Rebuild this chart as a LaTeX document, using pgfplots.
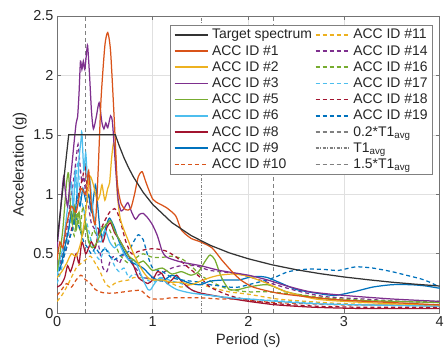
\documentclass[border=0pt]{standalone}
\usepackage{pgfplots}
\pgfplotsset{compat=1.18}
\usepackage{fontspec}
\setmainfont{Liberation Sans}
\definecolor{mtarget}{rgb}{0.2,0.2,0.2}
\definecolor{c1}{rgb}{0.85,0.325,0.098}
\definecolor{c2}{rgb}{0.929,0.694,0.125}
\definecolor{c3}{rgb}{0.494,0.184,0.556}
\definecolor{c4}{rgb}{0.466,0.674,0.188}
\definecolor{c5}{rgb}{0.301,0.745,0.933}
\definecolor{c6}{rgb}{0.635,0.078,0.184}
\definecolor{c7}{rgb}{0,0.447,0.741}
\definecolor{vgray}{rgb}{0.5,0.5,0.5}
\begin{document}
\begin{tikzpicture}
\begin{axis}[
  scale only axis,
  width=384.4pt, height=298.7pt,
  xmin=0, xmax=4, ymin=0, ymax=2.5,
  xtick={0,1,2,3,4},
  ytick={0,0.5,1,1.5,2,2.5},
  /pgf/number format/assume math mode=true,
  tick label style={font=\fontsize{14.5}{16}\selectfont, text=black!85},
  label style={font=\fontsize{15}{17}\selectfont, text=black!85},
  xlabel={Period (s)},
  ylabel={Acceleration (g)},
  grid=major,
  major grid style={black!12, line width=0.6pt},
  axis line style={black!55, line width=0.7pt},
  tick style={black!55, line width=0.7pt},
  tick align=inside,
  major tick length=4pt,
  every axis plot/.append style={line width=1.25pt},
  legend style={at={(1,1)}, anchor=north east, xshift=-6.7pt, yshift=-9pt,
    font=\fontsize{14}{15.5}\selectfont, draw=black!50, line width=0.7pt,
    inner xsep=3pt, inner ysep=2pt, row sep=1pt, column sep=1pt, text=black!85},
  legend columns=2,
  legend cell align=left,
  legend image code/.code={\draw[line width=1.5pt, #1] (0pt,0pt) -- (34pt,0pt);},
]
% vertical reference lines
\addplot[forget plot, vgray, line width=1pt, dash pattern=on 4pt off 3pt] coordinates {(0.302,0) (0.302,2.5)};
\addplot[forget plot, vgray, line width=1pt, dash pattern=on 3pt off 1.5pt on 1pt off 1.5pt] coordinates {(1.51,0) (1.51,2.5)};
\addplot[forget plot, vgray, line width=1pt, dash pattern=on 4pt off 3pt] coordinates {(2.265,0) (2.265,2.5)};
% ACC 10 orange dashed
\addplot[forget plot, smooth, tension=0.4, c1, dash pattern=on 4pt off 3pt] coordinates {(0,0.15) (0.05,0.2) (0.1,0.25) (0.15,0.22) (0.2,0.28) (0.25,0.32) (0.3,0.28) (0.35,0.25) (0.4,0.2) (0.45,0.18) (0.5,0.17) (0.6,0.17) (0.7,0.18) (0.8,0.19) (0.88,0.19) (0.95,0.14) (1.0,0.12) (1.1,0.12) (1.2,0.13) (1.35,0.13) (1.5,0.13) (1.7,0.12) (1.9,0.12) (2.1,0.1) (2.3,0.09) (2.6,0.08) (3.0,0.07) (3.5,0.07) (4.0,0.06)};
% ACC 11 yellow dashed
\addplot[forget plot, smooth, tension=0.4, c2, dash pattern=on 4pt off 3pt] coordinates {(0,0.1) (0.05,0.15) (0.1,0.22) (0.15,0.3) (0.2,0.38) (0.25,0.42) (0.3,0.45) (0.35,0.48) (0.4,0.42) (0.45,0.35) (0.5,0.26) (0.55,0.22) (0.6,0.25) (0.67,0.27) (0.75,0.28) (0.8,0.3) (0.9,0.3) (1.0,0.28) (1.1,0.28) (1.2,0.25) (1.3,0.22) (1.45,0.25) (1.6,0.22) (1.8,0.18) (2.0,0.16) (2.3,0.12) (2.6,0.1) (3.0,0.08) (3.5,0.07) (4.0,0.07)};
% ACC 14 purple dashed
\addplot[forget plot, smooth, tension=0.4, c3, dash pattern=on 4pt off 3pt] coordinates {(0,0.3) (0.04,0.45) (0.08,0.6) (0.11,0.75) (0.14,0.95) (0.17,1.1) (0.2,1.3) (0.22,1.42) (0.24,1.25) (0.26,1.1) (0.28,1.15) (0.3,1.0) (0.33,0.9) (0.36,0.75) (0.4,0.7) (0.44,0.55) (0.48,0.38) (0.52,0.35) (0.56,0.45) (0.6,0.48) (0.65,0.42) (0.7,0.5) (0.75,0.45) (0.8,0.4) (0.85,0.35) (0.9,0.3) (1.0,0.3) (1.1,0.34) (1.2,0.38) (1.3,0.4) (1.45,0.4) (1.6,0.36) (1.9,0.33) (2.2,0.26) (2.5,0.19) (2.8,0.14) (3.2,0.12) (3.6,0.1) (4.0,0.09)};
% ACC 16 green dashed
\addplot[forget plot, smooth, tension=0.4, c4, dash pattern=on 4pt off 3pt] coordinates {(0,0.3) (0.04,0.4) (0.08,0.55) (0.12,0.7) (0.15,0.8) (0.18,0.65) (0.21,0.85) (0.24,0.7) (0.27,0.9) (0.3,0.75) (0.34,0.6) (0.38,0.7) (0.42,0.65) (0.46,0.7) (0.5,0.75) (0.55,0.7) (0.6,0.6) (0.65,0.5) (0.7,0.45) (0.75,0.42) (0.8,0.45) (0.85,0.48) (0.9,0.5) (1.0,0.47) (1.1,0.47) (1.2,0.48) (1.3,0.46) (1.4,0.4) (1.5,0.32) (1.65,0.25) (1.8,0.2) (2.0,0.18) (2.2,0.18) (2.5,0.16) (2.8,0.13) (3.2,0.11) (3.6,0.1) (4.0,0.1)};
% ACC 17 light blue dashed
\addplot[forget plot, smooth, tension=0.4, c5, dash pattern=on 4pt off 3pt] coordinates {(0,0.25) (0.04,0.35) (0.08,0.5) (0.12,0.65) (0.15,0.85) (0.18,1.0) (0.2,1.15) (0.22,1.28) (0.24,1.0) (0.27,0.9) (0.3,0.8) (0.33,0.7) (0.36,0.6) (0.4,0.5) (0.45,0.45) (0.5,0.55) (0.55,0.5) (0.6,0.4) (0.65,0.35) (0.7,0.38) (0.75,0.3) (0.8,0.33) (0.9,0.3) (1.0,0.26) (1.1,0.3) (1.2,0.27) (1.3,0.25) (1.4,0.2) (1.5,0.16) (1.7,0.14) (2.0,0.12) (2.4,0.1) (2.8,0.08) (3.2,0.07) (4.0,0.06)};
% ACC 18 dark red dashed
\addplot[forget plot, smooth, tension=0.4, c6, dash pattern=on 4pt off 3pt] coordinates {(0,0.3) (0.04,0.4) (0.08,0.5) (0.12,0.6) (0.15,0.7) (0.18,0.8) (0.21,0.95) (0.24,1.05) (0.27,1.15) (0.29,1.25) (0.31,1.1) (0.34,0.95) (0.37,0.85) (0.4,0.75) (0.45,0.7) (0.5,0.78) (0.55,0.85) (0.6,0.88) (0.63,0.85) (0.67,0.75) (0.72,0.6) (0.78,0.5) (0.85,0.52) (0.95,0.54) (1.05,0.54) (1.15,0.52) (1.25,0.47) (1.35,0.4) (1.5,0.3) (1.6,0.22) (1.8,0.15) (2.0,0.11) (2.3,0.08) (2.7,0.06) (3.2,0.05) (4.0,0.05)};
% ACC 19 blue dashed
\addplot[forget plot, smooth, tension=0.4, c7, dash pattern=on 4pt off 3pt] coordinates {(0,0.3) (0.04,0.4) (0.08,0.5) (0.12,0.6) (0.16,0.7) (0.2,0.8) (0.24,0.7) (0.28,0.6) (0.32,0.55) (0.36,0.5) (0.4,0.55) (0.45,0.5) (0.5,0.55) (0.55,0.48) (0.6,0.45) (0.65,0.48) (0.7,0.5) (0.75,0.52) (0.8,0.6) (0.85,0.66) (0.9,0.62) (0.95,0.48) (1.0,0.38) (1.1,0.35) (1.2,0.3) (1.3,0.28) (1.4,0.27) (1.5,0.26) (1.6,0.24) (1.7,0.23) (1.8,0.22) (1.9,0.22) (2.0,0.24) (2.1,0.26) (2.2,0.28) (2.3,0.31) (2.42,0.35) (2.6,0.37) (2.77,0.37) (2.94,0.36) (3.12,0.39) (3.3,0.38) (3.5,0.35) (3.65,0.32) (3.8,0.29) (3.9,0.26) (4.0,0.22)};
% ACC 8 dark red
\addplot[forget plot, smooth, tension=0.4, c6] coordinates {(0,0.22) (0.04,0.24) (0.08,0.3) (0.11,0.4) (0.14,0.35) (0.17,0.42) (0.2,0.5) (0.23,0.42) (0.26,0.6) (0.3,0.5) (0.33,0.55) (0.36,0.6) (0.4,0.55) (0.44,0.7) (0.48,0.6) (0.52,0.72) (0.56,0.76) (0.6,0.68) (0.65,0.62) (0.7,0.55) (0.75,0.48) (0.8,0.4) (0.85,0.3) (0.9,0.27) (0.95,0.25) (1.0,0.28) (1.05,0.35) (1.1,0.33) (1.15,0.25) (1.2,0.28) (1.25,0.32) (1.3,0.27) (1.4,0.2) (1.5,0.17) (1.7,0.14) (2.0,0.1) (2.3,0.07) (2.7,0.05) (3.2,0.04) (4.0,0.04)};
% ACC 9 blue
\addplot[forget plot, smooth, tension=0.4, c7] coordinates {(0,0.35) (0.04,0.4) (0.08,0.55) (0.12,0.7) (0.15,0.85) (0.18,0.75) (0.21,1.0) (0.24,0.9) (0.27,1.05) (0.3,0.95) (0.33,1.0) (0.36,0.85) (0.4,1.08) (0.42,0.95) (0.45,0.7) (0.48,0.65) (0.52,0.75) (0.55,0.8) (0.6,0.72) (0.65,0.6) (0.7,0.52) (0.75,0.45) (0.8,0.42) (0.9,0.38) (1.0,0.3) (1.1,0.27) (1.2,0.32) (1.3,0.28) (1.4,0.25) (1.5,0.24) (1.6,0.27) (1.75,0.28) (1.9,0.28) (2.0,0.3) (2.1,0.31) (2.2,0.3) (2.35,0.25) (2.5,0.2) (2.7,0.17) (2.9,0.15) (3.1,0.18) (3.3,0.22) (3.5,0.24) (3.7,0.24) (3.85,0.23) (4.0,0.21)};
% ACC 6 light blue
\addplot[forget plot, smooth, tension=0.4, c5] coordinates {(0,0.3) (0.03,0.45) (0.06,0.55) (0.09,0.75) (0.12,0.95) (0.15,1.1) (0.17,0.85) (0.19,1.2) (0.21,1.0) (0.23,1.3) (0.25,1.45) (0.26,1.52) (0.28,1.2) (0.3,1.35) (0.32,1.1) (0.34,1.15) (0.37,0.9) (0.4,0.75) (0.43,0.62) (0.46,0.6) (0.5,0.7) (0.55,0.6) (0.6,0.55) (0.65,0.58) (0.7,0.5) (0.75,0.45) (0.8,0.45) (0.85,0.38) (0.9,0.28) (0.95,0.2) (0.98,0.2) (1.02,0.25) (1.08,0.3) (1.15,0.25) (1.25,0.2) (1.4,0.17) (1.6,0.15) (1.8,0.13) (2.0,0.12) (2.3,0.1) (2.7,0.08) (3.2,0.07) (4.0,0.06)};
% ACC 5 green
\addplot[forget plot, smooth, tension=0.4, c4] coordinates {(0,0.35) (0.03,0.5) (0.06,0.7) (0.08,0.9) (0.1,1.1) (0.12,1.18) (0.14,0.9) (0.16,0.75) (0.18,0.9) (0.2,0.7) (0.23,0.85) (0.26,0.65) (0.3,0.75) (0.33,0.6) (0.37,0.55) (0.42,0.6) (0.47,0.7) (0.52,0.75) (0.56,0.78) (0.6,0.7) (0.65,0.62) (0.7,0.55) (0.75,0.48) (0.8,0.45) (0.85,0.42) (0.9,0.44) (0.95,0.4) (1.0,0.36) (1.1,0.38) (1.2,0.33) (1.3,0.35) (1.4,0.32) (1.48,0.35) (1.55,0.44) (1.6,0.49) (1.65,0.45) (1.72,0.3) (1.8,0.2) (1.9,0.2) (2.0,0.22) (2.2,0.24) (2.4,0.18) (2.7,0.13) (3.0,0.11) (3.5,0.1) (4.0,0.09)};
% ACC 2 yellow
\addplot[forget plot, smooth, tension=0.4, c2] coordinates {(0,0.3) (0.05,0.35) (0.1,0.42) (0.15,0.5) (0.2,0.48) (0.25,0.6) (0.3,0.85) (0.33,1.1) (0.35,1.15) (0.38,1.08) (0.42,0.95) (0.45,1.0) (0.47,1.08) (0.5,0.95) (0.53,1.05) (0.55,1.1) (0.57,1.3) (0.59,1.43) (0.61,1.35) (0.63,1.0) (0.66,0.8) (0.7,0.7) (0.75,0.6) (0.8,0.5) (0.85,0.42) (0.9,0.35) (0.95,0.3) (1.0,0.28) (1.1,0.28) (1.2,0.26) (1.3,0.26) (1.4,0.24) (1.5,0.27) (1.6,0.3) (1.7,0.32) (1.85,0.33) (2.0,0.31) (2.2,0.25) (2.4,0.18) (2.7,0.12) (3.0,0.1) (3.5,0.08) (4.0,0.07)};
% ACC 3 purple
\addplot[forget plot, smooth, tension=0.4, c3] coordinates {(0,0.55) (0.03,0.8) (0.05,1.0) (0.07,1.15) (0.09,1.0) (0.11,0.9) (0.13,1.05) (0.15,1.2) (0.18,1.45) (0.2,1.6) (0.215,1.65) (0.23,1.85) (0.245,2.12) (0.26,2.05) (0.275,2.12) (0.29,2.05) (0.31,2.2) (0.32,2.25) (0.34,2.0) (0.36,1.7) (0.38,1.55) (0.41,1.65) (0.44,1.77) (0.47,1.6) (0.49,1.55) (0.51,1.6) (0.53,1.56) (0.56,1.66) (0.58,1.6) (0.61,1.25) (0.64,0.95) (0.67,0.86) (0.7,0.88) (0.74,0.93) (0.78,0.85) (0.82,0.79) (0.86,0.83) (0.9,0.84) (0.95,0.8) (1.0,0.74) (1.05,0.65) (1.1,0.52) (1.15,0.47) (1.3,0.43) (1.5,0.4) (1.7,0.36) (2.0,0.32) (2.2,0.28) (2.4,0.23) (2.65,0.18) (3.0,0.15) (3.5,0.12) (4.0,0.1)};
% ACC 1 orange
\addplot[forget plot, smooth, tension=0.4, c1] coordinates {(0,0.45) (0.03,0.6) (0.06,0.55) (0.1,0.75) (0.15,0.9) (0.2,0.85) (0.25,1.05) (0.3,1.0) (0.33,1.2) (0.36,0.9) (0.4,0.75) (0.43,1.2) (0.46,1.8) (0.5,2.25) (0.53,2.36) (0.56,2.2) (0.6,1.6) (0.63,1.1) (0.67,0.92) (0.72,0.87) (0.77,0.88) (0.81,1.0) (0.85,1.15) (0.89,1.19) (0.93,1.1) (1.0,0.96) (1.07,0.92) (1.14,0.89) (1.24,0.82) (1.3,0.7) (1.4,0.63) (1.5,0.6) (1.62,0.55) (1.72,0.45) (1.83,0.35) (1.92,0.28) (2.05,0.22) (2.3,0.17) (2.6,0.14) (3.0,0.11) (3.5,0.09) (4.0,0.07)};
% Target
\addplot[forget plot, mtarget] coordinates {(0,0.6) (0.122,1.5) (0.61,1.5) (0.65,1.408) (0.7,1.307) (0.75,1.22) (0.8,1.144) (0.9,1.017) (1.0,0.915) (1.2,0.7625) (1.4,0.654) (1.6,0.572) (1.8,0.508) (2.0,0.458) (2.25,0.407) (2.5,0.366) (2.75,0.333) (3.0,0.305) (3.25,0.282) (3.5,0.261) (3.75,0.244) (4.0,0.229)};
% legend (row-wise order)
\addlegendimage{mtarget}\addlegendentry{Target spectrum}
\addlegendimage{c2, dash pattern=on 4pt off 3pt}\addlegendentry{ACC ID \#11}
\addlegendimage{c1}\addlegendentry{ACC ID \#1}
\addlegendimage{c3, dash pattern=on 4pt off 3pt}\addlegendentry{ACC ID \#14}
\addlegendimage{c2}\addlegendentry{ACC ID \#2}
\addlegendimage{c4, dash pattern=on 4pt off 3pt}\addlegendentry{ACC ID \#16}
\addlegendimage{c3}\addlegendentry{ACC ID \#3}
\addlegendimage{c5, dash pattern=on 4pt off 3pt}\addlegendentry{ACC ID \#17}
\addlegendimage{c4}\addlegendentry{ACC ID \#5}
\addlegendimage{c6, dash pattern=on 4pt off 3pt}\addlegendentry{ACC ID \#18}
\addlegendimage{c5}\addlegendentry{ACC ID \#6}
\addlegendimage{c7, dash pattern=on 4pt off 3pt}\addlegendentry{ACC ID \#19}
\addlegendimage{c6}\addlegendentry{ACC ID \#8}
\addlegendimage{vgray, dash pattern=on 4pt off 3pt}\addlegendentry{0.2*T1\textsubscript{avg}}
\addlegendimage{c7}\addlegendentry{ACC ID \#9}
\addlegendimage{vgray, dash pattern=on 3pt off 1.5pt on 1pt off 1.5pt}\addlegendentry{T1\textsubscript{avg}}
\addlegendimage{c1, dash pattern=on 4pt off 3pt}\addlegendentry{ACC ID \#10}
\addlegendimage{vgray, dash pattern=on 4pt off 3pt}\addlegendentry{1.5*T1\textsubscript{avg}}
\end{axis}
\path (current axis.south west) ++(-57.3pt,-47.3pt) coordinate (bbA);
\path (current axis.north east) ++(5.3pt,16pt) coordinate (bbB);
\useasboundingbox (bbA) rectangle (bbB);
\end{tikzpicture}
\end{document}
